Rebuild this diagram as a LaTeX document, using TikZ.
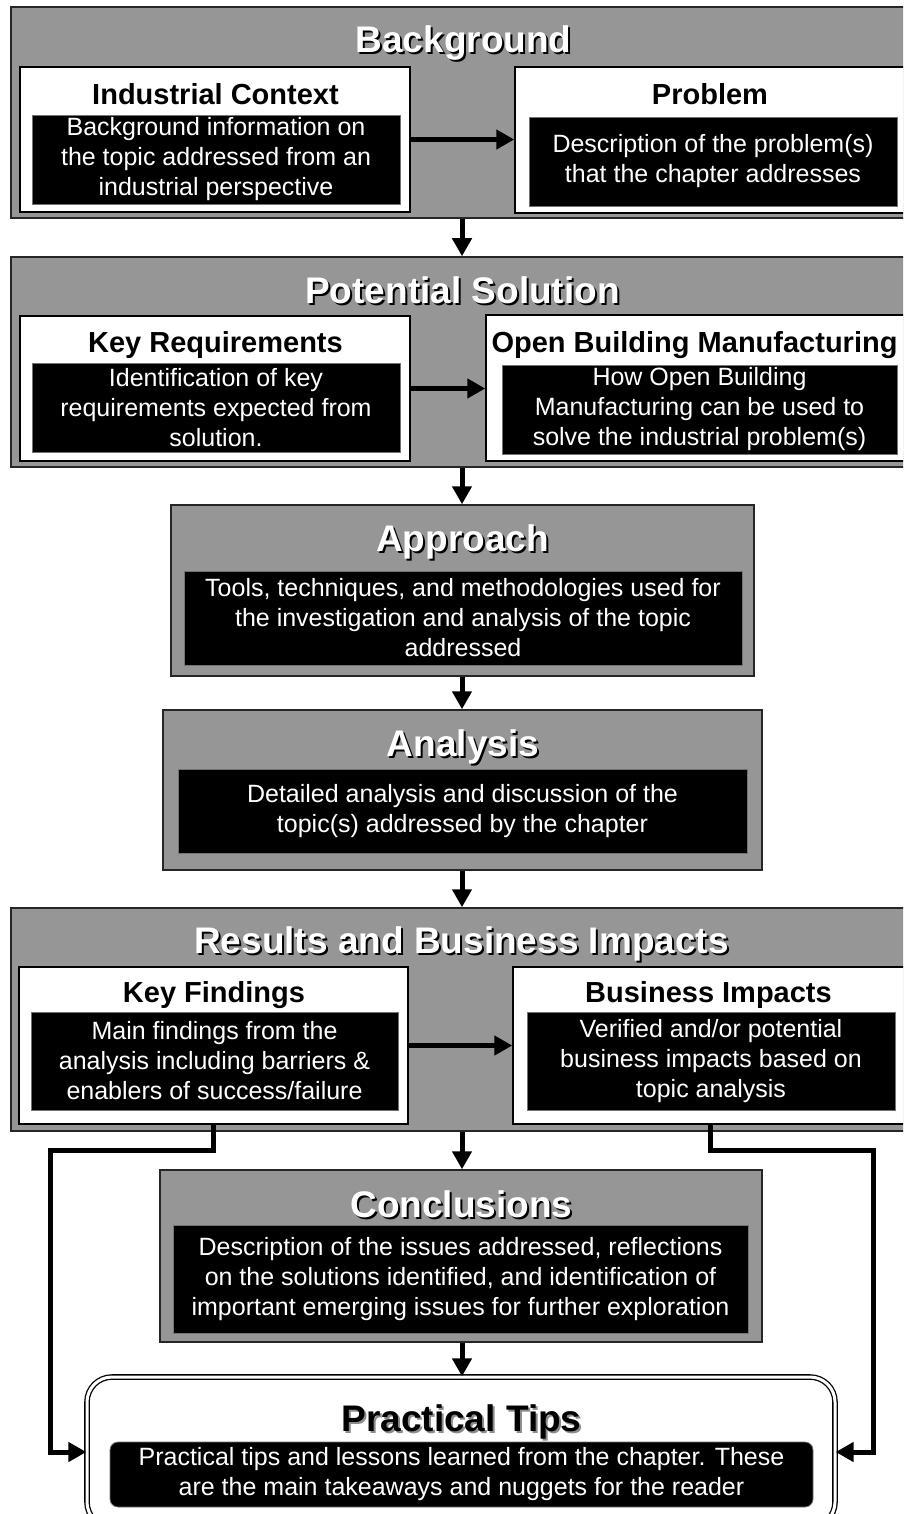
\documentclass[tikz,border=0pt]{standalone}
\usepackage{fontspec}
\setmainfont{Liberation Sans}
\usepackage{xcolor}
\usetikzlibrary{calc,positioning,arrows.meta,shapes}
\definecolor{panelgray}{RGB}{150,150,150}
\newcommand{\shadowed}[3]{\leavevmode\rlap{\kern2pt\raisebox{-2pt}{\textcolor{#1}{#3}}}\textcolor{#2}{#3}}

\begin{document}
\begin{tikzpicture}[
    x=1pt, y=-1pt,
    panel/.style={draw=black!85, line width=1.5pt, fill=panelgray, inner sep=0pt},
    card/.style={draw=black, line width=1.5pt, fill=white, inner sep=0pt},
    blurb/.style={fill=black, draw=black!55, line width=0.8pt, text=white, inner sep=0pt,
        align=center, font=\fontsize{25}{30}\selectfont},
    sectitle/.style={anchor=base, inner sep=0pt, font=\fontsize{37}{44}\selectfont\bfseries},
    cardtitle/.style={anchor=base, inner sep=0pt, font=\fontsize{29}{35}\selectfont\bfseries},
    flow/.style={line width=5pt, -{Triangle[length=18pt,width=19pt]}},
]
    \useasboundingbox (0,0) rectangle (903,1514);
    \clip (0,0) rectangle (903,1514);
    \coordinate (spine) at (462,0);

    % background
    \node[panel, minimum width=894pt, minimum height=211pt] (bg) at (458,112.5) {};
    \node[sectitle] (bgtitle) at (463.5,53) {\shadowed{black}{white}{Background}};
    \node[card, minimum width=390pt, minimum height=145pt] (ic) at (215,139.5) {};
    \node[cardtitle] (ictitle) at (215.5,105) {Industrial Context};
    \node[blurb, minimum width=368pt, minimum height=89pt] (icbody) at (216,159.5)
        {Background information on\\the topic addressed from an\\industrial perspective};
    \node[card, minimum width=392pt, minimum height=146pt] (prob) at (711,140) {};
    \node[cardtitle] (probtitle) at (710,105) {Problem};
    \node[blurb, minimum width=368pt, minimum height=89pt] (probbody) at (713,161.5)
        {Description of the problem(s)\\that the chapter addresses};

    % potential solution
    \node[panel, minimum width=894pt, minimum height=210pt] (ps) at (458,362) {};
    \node[sectitle] (pstitle) at (462.5,303) {\shadowed{black}{white}{Potential Solution}};
    \node[card, minimum width=390pt, minimum height=145pt] (kr) at (215,388.5) {};
    \node[cardtitle] (krtitle) at (215.5,352) {Key Requirements};
    \node[blurb, minimum width=368pt, minimum height=89pt] (krbody) at (216,407.5)
        {Identification of key\\requirements expected from\\solution.};
    \node[card, minimum width=421pt, minimum height=146pt] (obm) at (696.5,388) {};
    \node[cardtitle] (obmtitle) at (694.5,352) {Open Building Manufacturing};
    \node[blurb, minimum width=395pt, minimum height=89pt] (obmbody) at (699.5,409.5)
        {How Open Building\\Manufacturing can be used to\\solve the industrial problem(s)};

    % approach and analysis
    \node[panel, minimum width=583pt, minimum height=171pt] (appr) at (462.5,590.5) {};
    \node[sectitle] (apprtitle) at (462.5,551) {\shadowed{black}{white}{Approach}};
    \node[blurb, minimum width=558pt, minimum height=94pt] (apprbody) at (463,618)
        {Tools, techniques, and methodologies used for\\the investigation and analysis of the topic\\addressed};
    \node[panel, minimum width=599pt, minimum height=160pt] (ana) at (462.5,790) {};
    \node[sectitle] (anatitle) at (463,756) {\shadowed{black}{white}{Analysis}};
    \node[blurb, minimum width=569pt, minimum height=84pt] (anabody) at (462.5,811)
        {Detailed analysis and discussion of the\\topic(s) addressed by the chapter};

    % results
    \node[panel, minimum width=894pt, minimum height=223pt] (res) at (458,1019.5) {};
    \node[sectitle] (restitle) at (461.5,953) {\shadowed{black}{white}{Results and Business Impacts}};
    \node[card, minimum width=389pt, minimum height=157pt] (kf) at (213.5,1045.5) {};
    \node[cardtitle] (kftitle) at (214,1002) {Key Findings};
    \node[blurb, minimum width=367pt, minimum height=98pt] (kfbody) at (214.5,1061)
        {Main findings from the\\analysis including barriers \&\\enablers of success/failure};
    \node[card, minimum width=394pt, minimum height=157pt] (bi) at (710,1045.5) {};
    \node[cardtitle] (bititle) at (708.5,1002) {Business Impacts};
    \node[blurb, minimum width=368pt, minimum height=98pt] (bibody) at (711,1061)
        {Verified and/or potential\\business impacts based on\\topic analysis};

    % conclusions and tips
    \node[panel, minimum width=602pt, minimum height=172pt] (concl) at (461,1256) {};
    \node[sectitle] (concltitle) at (461.5,1217) {\shadowed{black}{white}{Conclusions}};
    \node[blurb, minimum width=575pt, minimum height=108pt] (conclbody) at (460.5,1279)
        {Description of the issues addressed, reflections\\on the solutions identified, and identification of\\important emerging issues for further exploration};
    \node[draw, double, double distance=3pt, line width=1.3pt, fill=white, rounded corners=25pt,
        inner sep=0pt, minimum width=748pt, minimum height=150pt] (tips) at (461,1452) {};
    \node[sectitle] (tipstitle) at (461.5,1431) {\shadowed{black!45}{black}{Practical Tips}};
    \node[blurb, rounded corners=8pt, minimum width=703pt, minimum height=65pt] (tipsbody) at (461.5,1474.5)
        {Practical tips and lessons learned from the chapter. These\\are the main takeaways and nuggets for the reader};

    \draw[flow] (ic.east) -- (ic.east -| prob.west);
    \draw[flow] (kr.east) -- (kr.east -| obm.west);
    \draw[flow] (kf.east) -- (kf.east -| bi.west);
    \draw[flow] (bg.south -| spine) -- (ps.north -| spine);
    \draw[flow] (ps.south -| spine) -- (appr.north -| spine);
    \draw[flow] (appr.south -| spine) -- (ana.north -| spine);
    \draw[flow] (ana.south -| spine) -- (res.north -| spine);
    \draw[flow] (res.south -| spine) -- (concl.north -| spine);
    \draw[flow] (concl.south -| spine) -- (tips.north -| spine);

    \coordinate (lbend) at (50,1150);
    \coordinate (rbend) at (873,1150);
    \draw[flow] (kf.south) |- (lbend) |- (tips.west);
    \draw[flow] (bi.south) |- (rbend) |- (tips.east);
\end{tikzpicture}
\end{document}
